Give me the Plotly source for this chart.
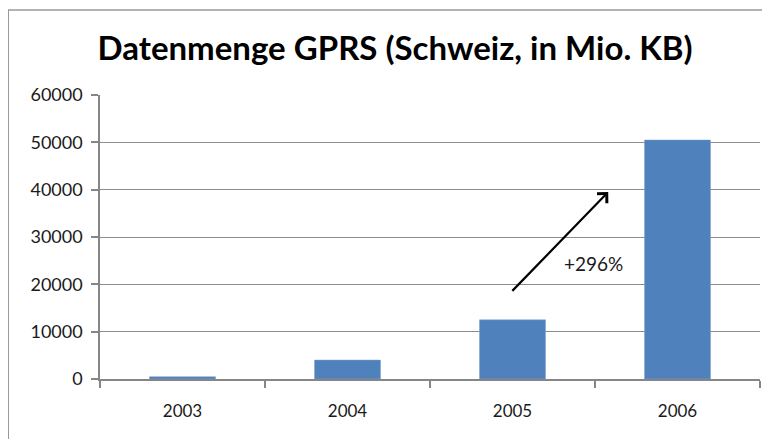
import plotly.graph_objects as go

years = ["2003", "2004", "2005", "2006"]
values = [500, 4000, 12500, 50500]
y_ticks = [0, 10000, 20000, 30000, 40000, 50000, 60000]
title_text = "Datenmenge GPRS (Schweiz, in Mio. KB)"
growth_label = "+296%"
arrow_start = (1.99, 18300)
arrow_end = (2.58, 39500)
label_pos = (2.49, 24500)

# page body has an 8px margin, so the figure is sized to fit the window
W, H = 762, 431

fig = go.Figure()
fig.add_trace(go.Bar(
    x=years, y=values,
    marker=dict(color="#4F81BD", line=dict(color="#7FA3D0", width=0.5)),
    width=0.4,
))

fig.update_layout(
    width=W, height=H,
    margin=dict(l=92, r=10, t=87, b=60),
    paper_bgcolor="white", plot_bgcolor="white",
    showlegend=False,
    title=dict(text=title_text, x=0.508, xanchor="center", y=0.905, yanchor="middle",
               font=dict(family="Lato", size=33, color="black", weight="bold")),
    font=dict(family="Lato", size=17, color="#1a1a1a"),
)
fig.update_xaxes(
    type="category", showline=True, linecolor="#868686", linewidth=1.5,
    ticks="outside", tickson="boundaries", ticklen=7, tickcolor="#868686",
    tickwidth=1.5, showgrid=False, ticklabelstandoff=16,
    tickfont=dict(family="Lato", size=17, color="#1a1a1a"),
)
fig.update_yaxes(
    range=[0, 60000], tickvals=y_ticks, ticktext=[str(v) for v in y_ticks],
    showline=True, linecolor="#868686", linewidth=1.5,
    ticks="outside", ticklen=7, tickcolor="#868686", tickwidth=1.5,
    showgrid=True, gridcolor="#8c8c8c", gridwidth=1, zeroline=False,
    ticklabelstandoff=5, tickfont=dict(family="Lato", size=18, color="#1a1a1a"),
)

fig.add_annotation(
    x=arrow_end[0], y=arrow_end[1], ax=arrow_start[0], ay=arrow_start[1],
    xref="x", yref="y", axref="x", ayref="y", text="",
    showarrow=True, arrowhead=4, arrowsize=1.2, arrowwidth=2.2, arrowcolor="black",
)
fig.add_annotation(
    x=label_pos[0], y=label_pos[1], xref="x", yref="y", text=growth_label,
    showarrow=False, font=dict(family="Lato", size=19, color="#1a1a1a"),
)

# chart frame
fig.add_shape(type="rect", xref="paper", yref="paper",
              x0=-0.139, x1=1.2, y0=-0.5, y1=(H - 60 - 2) / (H - 87 - 60),
              line=dict(color="#9a9a9a", width=1.5), layer="below")

fig.write_html("out.html")
